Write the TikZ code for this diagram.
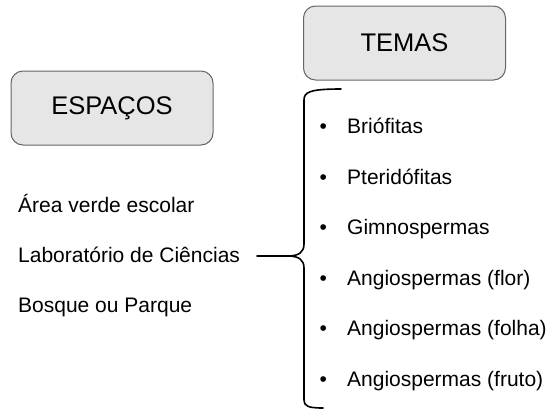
\documentclass[tikz,border=0pt]{standalone}
\usepackage{fontspec}
\setmainfont{Liberation Sans}
\definecolor{boxgray}{RGB}{230,230,230}
\definecolor{edgegray}{RGB}{102,102,102}
\usetikzlibrary{positioning}

\begin{document}
\begin{tikzpicture}[x=1pt,y=-1pt,
  titlebox/.style={draw=edgegray, line width=1pt, fill=boxgray, rounded corners=12pt,
    minimum width=202pt, minimum height=74pt, font=\fontsize{25.5}{30}\selectfont},
  entry/.style={anchor=base west, inner sep=0pt, font=\fontsize{21}{25}\selectfont},
  brace/.style={line width=1.6pt, line cap=round}]
  \useasboundingbox (0,0) rectangle (552,416);

  \node [titlebox] (espacos) at (112,108) {ESPAÇOS};
  \node [titlebox] (temas) at (404.5,43) {TEMAS};

  \foreach \place [count=\i] in {Área verde escolar, Laboratório de Ciências, Bosque ou Parque}
    \node [entry] (place\i) at (18,{212+50*(\i-1)}) {\place};

  \foreach \topic [count=\i] in {Briófitas, Pteridófitas, Gimnospermas,
      Angiospermas (flor), Angiospermas (folha), Angiospermas (fruto)}
    \node [entry] (topic\i) at (319.3,{133.5+50.6*(\i-1)}) {\makebox[27.7pt][l]{•}\topic};

  % chave
  \coordinate (tip) at (257,256);
  \coordinate (cusp) at (288,256);
  \draw [brace] (tip) -- (cusp) .. controls (299,256) and (304,252) .. (304,244)
    -- (304,100) .. controls (304,92) and (310,89) .. (341,89);
  \draw [brace] (cusp) .. controls (299,256) and (304,260) .. (304,268)
    -- (304,400) .. controls (304,406) and (308,408) .. (323,408);
\end{tikzpicture}
\end{document}
